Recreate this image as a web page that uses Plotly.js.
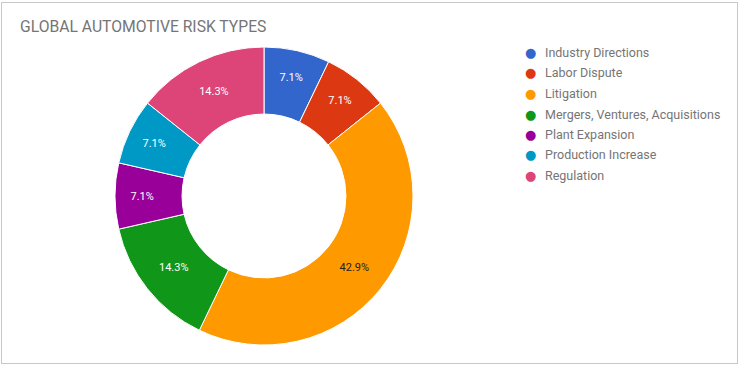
<!DOCTYPE html>
<html>
<head>
<meta charset="utf-8">
<script src="https://cdn.plot.ly/plotly-3.0.1.min.js"></script>
<style>
  html, body { margin: 0; padding: 0; background: #fff; }
  #wrap { position: relative; width: 740px; height: 365px; }
  #chart { position: absolute; left: 0; top: 0; width: 740px; height: 365px; }
  #frame { position: absolute; left: 1px; top: 2px; width: 735px; height: 360px; border: 1px solid #c8c8c8; pointer-events: none; }
</style>
</head>
<body>
<div id="wrap">
  <div id="chart"></div>
  <div id="frame"></div>
</div>
<script>
const categories = ["Industry Directions", "Labor Dispute", "Litigation", "Mergers, Ventures, Acquisitions", "Plant Expansion", "Production Increase", "Regulation"];
const counts = [1, 1, 6, 2, 1, 1, 2];
const colors = ["#3366cc", "#dc3912", "#ff9900", "#109618", "#990099", "#0099c6", "#dd4477"];
const textColors = ["#ffffff", "#ffffff", "#222222", "#ffffff", "#ffffff", "#ffffff", "#ffffff"];
const chartTitle = "GLOBAL AUTOMOTIVE RISK TYPES";

const W = 740, H = 365;
const px = x => x / W;
const py = y => 1 - y / H;

const trace = {
  type: 'pie',
  labels: categories,
  values: counts,
  sort: false,
  direction: 'clockwise',
  rotation: 0,
  hole: 0.55,
  marker: { colors: colors, line: { color: '#ffffff', width: 1 } },
  texttemplate: '%{percent:.1%}',
  textposition: 'inside',
  insidetextorientation: 'horizontal',
  textfont: { family: 'Roboto, Arial, sans-serif', size: 11, color: textColors },
  domain: { x: [px(115), px(413)], y: [py(345), py(47)] },
  showlegend: false,
  hoverinfo: 'label+percent'
};

const annotations = [];
const legendTop = 52.5, legendStep = 20.5;
categories.forEach((c, i) => {
  const y = legendTop + i * legendStep;
  annotations.push({
    xref: 'paper', yref: 'paper', x: px(530), y: py(y), xanchor: 'center', yanchor: 'middle',
    text: '●', showarrow: false, font: { family: 'DejaVu Sans, sans-serif', size: 13, color: colors[i] }
  });
  annotations.push({
    xref: 'paper', yref: 'paper', x: px(543), y: py(y), xanchor: 'left', yanchor: 'middle',
    text: c, showarrow: false, font: { family: 'Roboto, Arial, sans-serif', size: 12.5, color: '#757575' }
  });
});

const layout = {
  width: W, height: H,
  margin: { l: 0, r: 0, t: 0, b: 0 },
  paper_bgcolor: '#ffffff',
  title: {
    text: chartTitle,
    x: px(20), xanchor: 'left', xref: 'paper',
    y: py(27), yanchor: 'middle', yref: 'paper',
    font: { family: 'Roboto, Arial, sans-serif', size: 15.7, color: '#757575' }
  },
  annotations: annotations,
  showlegend: false
};

Plotly.newPlot('chart', [trace], layout, { displayModeBar: false, staticPlot: true });
</script>
</body>
</html>
